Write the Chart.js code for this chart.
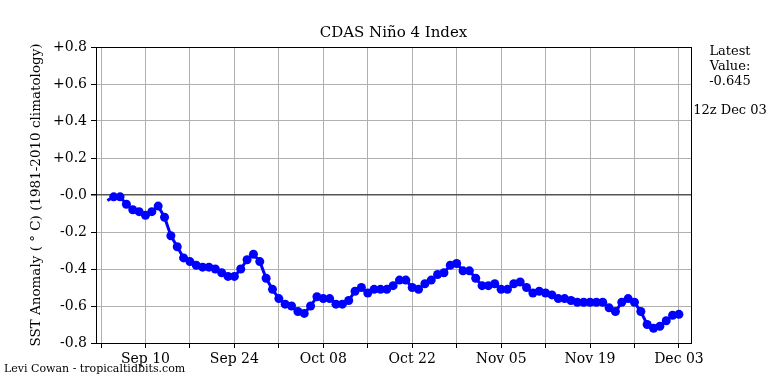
<!DOCTYPE html>
<html>
<head>
<meta charset="utf-8">
<script src="https://cdn.jsdelivr.net/npm/chart.js@4"></script>
<style>
  body { margin: 0; background: #fff; }
  canvas { display: block; }
</style>
</head>
<body>
<canvas id="chart-nino4" width="768" height="384"></canvas>
<script>
// days counted from Sep 03; first value is Sep 04
const firstDay = 1;
const anomaly = [
  -0.03, -0.01, -0.01, -0.05, -0.08, -0.09, -0.11, -0.09, -0.06, -0.12,
  -0.22, -0.28, -0.34, -0.36, -0.38, -0.39, -0.39, -0.40, -0.42, -0.44,
  -0.44, -0.40, -0.35, -0.32, -0.36, -0.45, -0.51, -0.56, -0.59, -0.60,
  -0.63, -0.64, -0.60, -0.55, -0.56, -0.56, -0.59, -0.59, -0.57, -0.52,
  -0.50, -0.53, -0.51, -0.51, -0.51, -0.49, -0.46, -0.46, -0.50, -0.51,
  -0.48, -0.46, -0.43, -0.42, -0.38, -0.37, -0.41, -0.41, -0.45, -0.49,
  -0.49, -0.48, -0.51, -0.51, -0.48, -0.47, -0.50, -0.53, -0.52, -0.53,
  -0.54, -0.56, -0.56, -0.57, -0.58, -0.58, -0.58, -0.58, -0.58, -0.61,
  -0.63, -0.58, -0.56, -0.58, -0.63, -0.70, -0.72, -0.71, -0.68, -0.65,
  -0.645
];
const tickDays = [0, 7, 14, 21, 28, 35, 42, 49, 56, 63, 70, 77, 84, 91];
const tickLabels = ['', 'Sep 10', '', 'Sep 24', '', 'Oct 08', '', 'Oct 22', '', 'Nov 05', '', 'Nov 19', '', 'Dec 03'];
const latestValue = '-0.645';
const latestTime = '12z Dec 03';

const serif = "'DejaVu Serif', serif";

const frame = {
  id: 'frame',
  afterDraw(chart) {
    const ctx = chart.ctx;
    const a = chart.chartArea;
    ctx.save();
    ctx.strokeStyle = '#000';
    ctx.lineWidth = 1;
    ctx.strokeRect(a.left + 0.5, a.top + 0.5, a.right - a.left, a.bottom - a.top);
    ctx.fillStyle = '#000';
    ctx.textAlign = 'center';
    ctx.textBaseline = 'middle';
    ctx.font = '15px ' + serif;
    ctx.fillText('CDAS Niño 4 Index', (a.left + a.right) / 2, 33);
    ctx.font = '13px ' + serif;
    ctx.fillText('Latest', 730, 52);
    ctx.fillText('Value:', 730, 67);
    ctx.fillText(latestValue, 730, 82);
    ctx.fillText(latestTime, 730, 111);
    ctx.textAlign = 'left';
    ctx.font = '11px ' + serif;
    ctx.fillText('Levi Cowan - tropicaltidbits.com', 4, 369);
    ctx.restore();
  }
};

new Chart(document.getElementById('chart-nino4'), {
  type: 'line',
  data: {
    datasets: [{
      data: anomaly.map((v, i) => ({ x: firstDay + i, y: v })),
      borderColor: '#0000ff',
      backgroundColor: '#0000ff',
      borderWidth: 3,
      pointRadius: ctx => ctx.dataIndex === 0 ? 0 : 4.5,
      pointBorderWidth: 0,
      pointHoverRadius: 4.5,
      tension: 0
    }]
  },
  options: {
    responsive: false,
    animation: false,
    devicePixelRatio: 1,
    layout: { padding: { top: 47, right: 77, left: 0, bottom: 0 } },
    plugins: {
      legend: { display: false },
      tooltip: { enabled: false }
    },
    scales: {
      x: {
        type: 'linear',
        min: -0.79,
        max: 92.9,
        afterFit: s => { s.height = 41; },
        afterBuildTicks: s => { s.ticks = tickDays.map(v => ({ value: v })); },
        grid: {
          color: '#b0b0b0',
          tickColor: '#000',
          tickLength: 5,
          lineWidth: 1
        },
        border: { color: '#000' },
        ticks: {
          autoSkip: false,
          maxRotation: 0,
          padding: 3,
          color: '#000',
          font: { family: serif, size: 14 },
          callback: (v, i) => tickLabels[i]
        }
      },
      y: {
        min: -0.8,
        max: 0.8,
        afterFit: s => { s.width = 96; },
        grid: {
          color: c => Math.abs(c.tick.value) < 1e-6 ? '#555' : '#b0b0b0',
          lineWidth: c => Math.abs(c.tick.value) < 1e-6 ? 1.5 : 1,
          tickColor: '#000',
          tickLength: 5
        },
        border: { color: '#000' },
        ticks: {
          stepSize: 0.2,
          padding: 4,
          color: '#000',
          font: { family: serif, size: 14 },
          callback: v => (v > 1e-6 ? '+' : '-') + Math.abs(v).toFixed(1)
        },
        title: {
          display: true,
          text: 'SST Anomaly ( ° C) (1981-2010 climatology)',
          color: '#000',
          font: { family: serif, size: 13.5 },
          padding: { top: 28, bottom: 0 }
        }
      }
    }
  },
  plugins: [frame]
});
</script>
</body>
</html>
